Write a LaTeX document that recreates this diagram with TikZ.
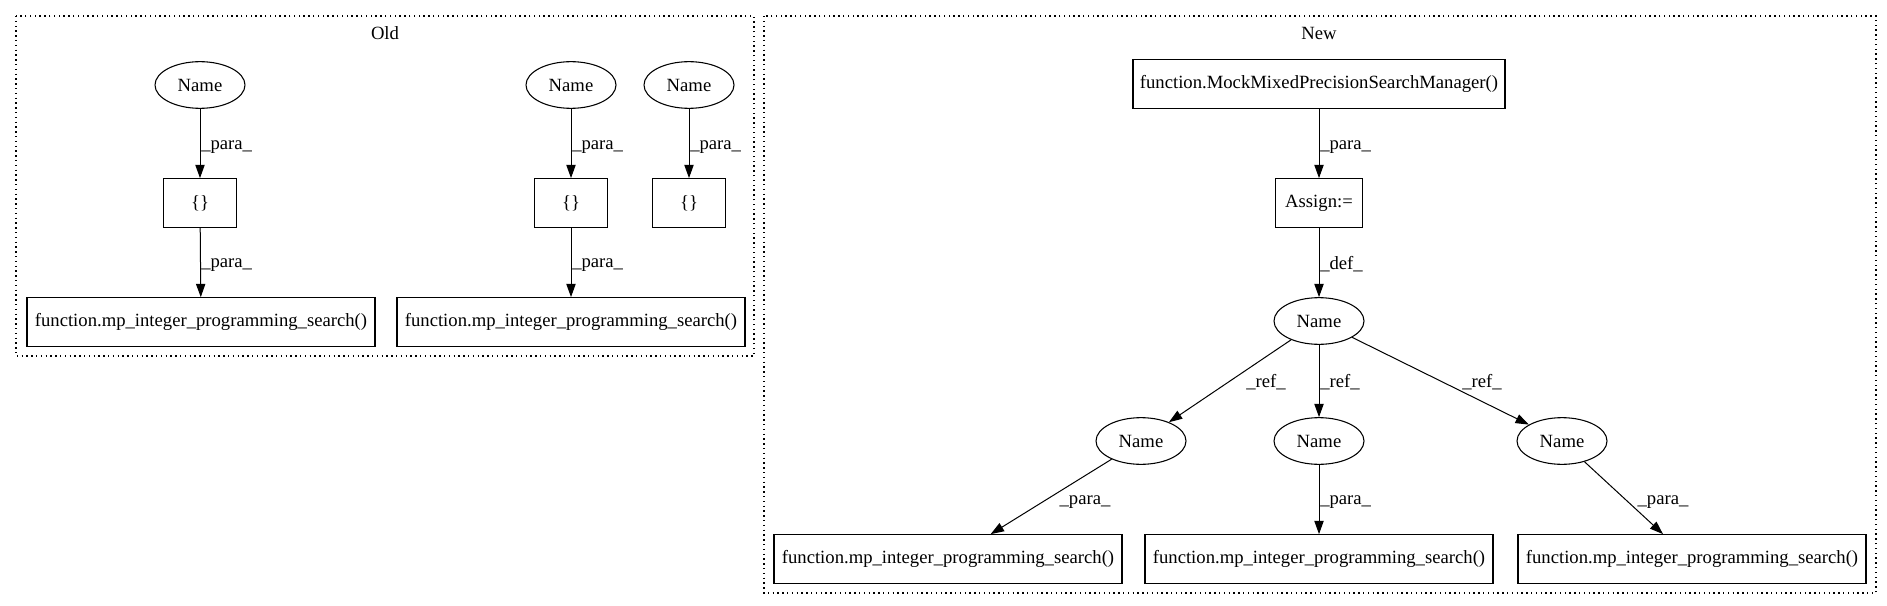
\documentclass[tikz,border=0pt]{standalone}
\usepackage{fontspec}
\setmainfont{Liberation Serif}
\usetikzlibrary{shapes.geometric,arrows.meta}
\begin{document}
\begin{tikzpicture}[x=0.75pt,y=-0.75pt,
  every node/.style={font=\fontsize{14pt}{16pt}\selectfont, inner sep=0pt},
  nm/.style={draw, ellipse, minimum width=67.5pt, minimum height=35pt, line width=0.8pt},
  bx/.style={draw, rectangle, minimum height=36.5pt, line width=0.8pt},
  cl/.style={draw, dash pattern=on 1pt off 2.6pt, line width=0.9pt},
  ed/.style={-{Triangle[length=10pt,width=7pt]}, line width=0.75pt},
  lb/.style={anchor=west, inner sep=0pt}]
\useasboundingbox (0,0) rectangle (1887,606);
% clusters
\draw[cl] (16,16) rectangle (754,356);
\draw[cl] (764,16) rectangle (1876,593);
\node (oldlbl) at (385,33) {Old};
\node (newlbl) at (1319,33) {New};
% old
\node[nm] (o1) at (200,85) {Name};
\node[nm] (o2) at (571,85) {Name};
\node[nm] (o3) at (689,85) {Name};
\node[bx, minimum width=54.75pt] (ob1) at (200,203) {\{\}};
\node[bx, minimum width=54.75pt] (ob2) at (571,203) {\{\}};
\node[bx, minimum width=54.75pt] (ob3) at (689,203) {\{\}};
\node[bx, minimum width=261pt] (of1) at (201,322) {function.mp\_integer\_programming\_search()};
\node[bx, minimum width=261pt] (of2) at (571,322) {function.mp\_integer\_programming\_search()};
\draw[ed] (o1) -- (ob1);
\draw[ed] (ob1) -- (of1);
\draw[ed] (o2) -- (ob2);
\draw[ed] (ob2) -- (of2);
\draw[ed] (o3) -- (ob3);
\node[lb] at (201,147) {\_para\_};
\node[lb] at (201,265) {\_para\_};
\node[lb] at (572,147) {\_para\_};
\node[lb] at (572,265) {\_para\_};
\node[lb] at (690,147) {\_para\_};
% new
\node[bx, minimum width=279pt] (mm) at (1319,84) {function.MockMixedPrecisionSearchManager()};
\node[bx, minimum width=65pt] (as) at (1319,203) {Assign:=};
\node[nm] (nt) at (1319,321) {Name};
\node[nm] (na) at (1141,441) {Name};
\node[nm] (nb) at (1319,441) {Name};
\node[nm] (nc) at (1562,441) {Name};
\node[bx, minimum width=261pt] (f1) at (948,559) {function.mp\_integer\_programming\_search()};
\node[bx, minimum width=261pt] (f2) at (1319,559) {function.mp\_integer\_programming\_search()};
\node[bx, minimum width=261pt] (f3) at (1692,559) {function.mp\_integer\_programming\_search()};
\draw[ed] (mm) -- (as);
\draw[ed] (as) -- (nt);
\draw[ed] (nt) -- (na);
\draw[ed] (nt) -- (nb);
\draw[ed] (nt) -- (nc);
\draw[ed] (na) -- ([xshift=32pt]f1.north);
\draw[ed] (nb) -- (f2);
\draw[ed] (nc) -- ([xshift=-21.75pt]f3.north);
\node[lb] at (1320,147) {\_para\_};
\node[lb] at (1320,264) {\_def\_};
\node at (1266,382) {\_ref\_};
\node[lb] at (1320,382) {\_ref\_};
\node at (1482,382) {\_ref\_};
\node at (1085,502) {\_para\_};
\node[lb] at (1320,502) {\_para\_};
\node at (1663,502) {\_para\_};
\end{tikzpicture}
\end{document}
